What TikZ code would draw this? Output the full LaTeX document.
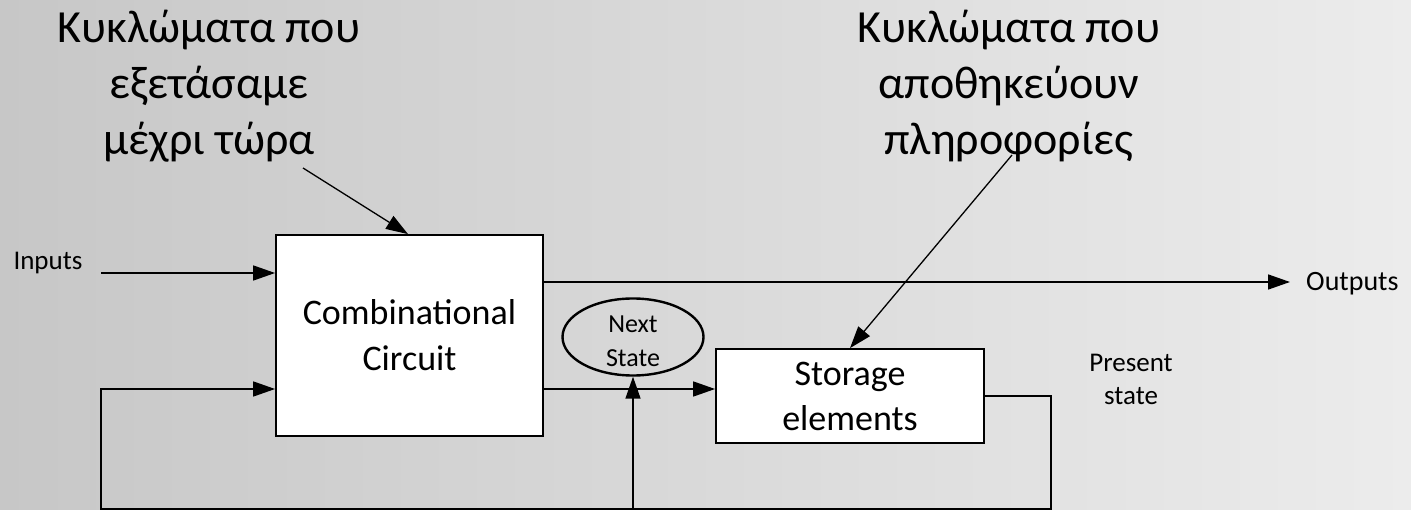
\documentclass[tikz,border=0pt]{standalone}
\usepackage{fontspec}
\setmainfont{Carlito}
\usetikzlibrary{arrows.meta,positioning,shapes.geometric}
\definecolor{bgleft}{RGB}{199,199,199}
\definecolor{bgright}{RGB}{236,236,236}

\begin{document}
\begin{tikzpicture}[x=1pt,y=-1pt,
  bx/.style={draw,line width=1.8pt,fill=white,inner sep=0pt,align=center},
  arr/.style={-{Triangle[length=22pt,width=15pt]},line width=1.6pt},
  note/.style={-{Triangle[length=22pt,width=15pt]},line width=1.3pt},
  big/.style={font=\fontsize{46}{56}\selectfont,align=center,inner sep=0pt},
  lbl/.style={font=\fontsize{27}{33}\selectfont,align=center,inner sep=0pt}]
  % background
  \shade[left color=bgleft,right color=bgright] (0,0) rectangle (1411,510);
  \useasboundingbox (0,0) rectangle (1411,510);
  % blocks
  \node[bx,minimum width=267pt,minimum height=201pt,font=\fontsize{36}{46}\selectfont](cc) at (409.5,335.5){Combinational\\Circuit};
  \node[bx,minimum width=268pt,minimum height=94pt,font=\fontsize{36}{45}\selectfont](sto) at (850,396){Storage\\elements};
  \node[draw,ellipse,line width=2.4pt,minimum width=141pt,minimum height=77pt,inner sep=0pt](ns) at (633,337){};
  \node[lbl,anchor=base,font=\fontsize{26}{34}\selectfont](nst) at (633,367){Next\\State};
  % texts (base = last line)
  \node[big,anchor=base](old) at (209,155){Κυκλώματα που\\εξετάσαμε\\μέχρι τώρα};
  \node[big,anchor=base](mem) at (1009,155){Κυκλώματα που\\αποθηκεύουν\\πληροφορίες};
  \node[lbl,anchor=base](inp) at (48,270){Inputs};
  \node[lbl,anchor=base west,font=\fontsize{28}{34}\selectfont](outp) at (1306,291){Outputs};
  \node[lbl,anchor=base](pst) at (1131,405){Present\\state};
  % wires
  \coordinate (in) at (101,273);
  \coordinate (outtip) at (1290,282);
  \coordinate (fb) at (101,389);
  \coordinate (mid) at (633,389);
  \coordinate (ps) at (1051,509);
  \draw[arr](in)--(in -| cc.west);
  \draw[arr](outtip -| cc.east)--(outtip);
  \draw[arr](mid -| cc.east)--(mid -| sto.west);
  \draw[arr](sto.east)-|(ps)-|(fb)--(fb -| cc.west);
  \draw[arr](ns.south |- ps)--(ns.south);
  % notes
  \coordinate (a1) at (303,168);
  \coordinate (a2) at (1012,155);
  \draw[note](a1)--([xshift=-1.5pt]cc.north);
  \draw[note](a2)--(sto.north);
\end{tikzpicture}
\end{document}
